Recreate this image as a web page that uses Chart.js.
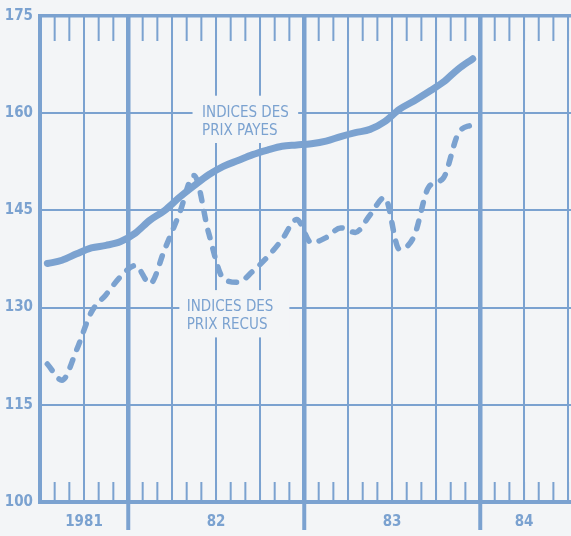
<!DOCTYPE html>
<html>
<head>
<meta charset="utf-8">
<script src="https://cdn.jsdelivr.net/npm/chart.js@4.4.0/dist/chart.umd.min.js"></script>
<style>
html, body { margin: 0; padding: 0; background: #f3f5f7; }
#wrap { width: 571px; height: 536px; }
</style>
</head>
<body>
<div id="wrap"><canvas id="indicesChart" width="571" height="536"></canvas></div>
<script>
// mois de juillet 1981 a decembre 1983
var months = ['07/81', '08/81', '09/81', '10/81', '11/81', '12/81',
              '01/82', '02/82', '03/82', '04/82', '05/82', '06/82',
              '07/82', '08/82', '09/82', '10/82', '11/82', '12/82',
              '01/83', '02/83', '03/83', '04/83', '05/83', '06/83',
              '07/83', '08/83', '09/83', '10/83', '11/83', '12/83'];

var prixPayes = [136.8, 137.3, 138.3, 139.2, 139.6, 140.2,
                 141.5, 143.5, 145.0, 147.0, 148.8, 150.5,
                 151.8, 152.7, 153.6, 154.3, 154.9, 155.1,
                 155.3, 155.7, 156.4, 157.0, 157.5, 158.7,
                 160.6, 161.9, 163.3, 164.8, 166.8, 168.4];

var prixRecus = [121.3, 118.8, 123.5, 129.3, 132.0, 134.8,
                 136.5, 133.7, 139.0, 144.5, 150.4, 141.5,
                 134.5, 133.9, 135.6, 137.8, 140.5, 143.6,
                 140.0, 140.8, 142.3, 141.6, 144.3, 147.0,
                 139.0, 141.0, 148.6, 150.0, 156.8, 158.3];

var yearTicks = [3, 12, 24, 33];
var yearLabels = ['1981', '82', '83', '84'];
var yearStarts = [6, 18, 30];
var yTicks = [100, 115, 130, 145, 160, 175];

var blue = '#7ba2d0';
var paper = '#f3f5f7';
var narrow = '"DejaVu Sans Condensed", Roboto, sans-serif';

var toPoints = function(values) {
    return values.map(function(v, i) { return { x: i + 0.5, y: v }; });
};

var quarterTicks = [];
for (var q = 0; q <= 36; q += 3) { quarterTicks.push(q); }

// etiquettes posees en coordonnees (mois, indice)
var notes = [
    { lines: ['INDICES DES', 'PRIX PAYES'], x: 11.05, y: 159.4, box: [10.4, 17.6, 162.7, 155.4] },
    { lines: ['INDICES DES', 'PRIX RECUS'], x: 10.0, y: 129.4, box: [9.5, 17.0, 132.7, 125.4] }
];

var extras = {
    id: 'extras',
    beforeDatasetsDraw: function(chart) {
        var ctx = chart.ctx;
        var xs = chart.scales.x;
        var ys = chart.scales.y;
        var area = chart.chartArea;
        ctx.save();
        ctx.beginPath();
        ctx.rect(area.left, area.top - 2, area.right - area.left, area.bottom - area.top + 4);
        ctx.clip();
        ctx.strokeStyle = blue;
        ctx.lineWidth = 2;
        for (var m = 1; m <= 36; m++) {
            var px = xs.getPixelForValue(m);
            ctx.beginPath();
            ctx.moveTo(px, area.top);
            ctx.lineTo(px, area.top + 25);
            ctx.moveTo(px, area.bottom);
            ctx.lineTo(px, area.bottom - 20);
            ctx.stroke();
        }
        notes.forEach(function(n) {
            var x1 = xs.getPixelForValue(n.box[0]);
            var x2 = xs.getPixelForValue(n.box[1]);
            var y1 = ys.getPixelForValue(n.box[2]);
            var y2 = ys.getPixelForValue(n.box[3]);
            ctx.fillStyle = paper;
            ctx.fillRect(x1, y1, x2 - x1, y2 - y1);
            ctx.fillStyle = blue;
            ctx.font = '15px ' + narrow;
            ctx.textBaseline = 'alphabetic';
            var tx = xs.getPixelForValue(n.x);
            var ty = ys.getPixelForValue(n.y);
            n.lines.forEach(function(line, i) {
                ctx.fillText(line, tx, ty + i * 18);
            });
        });
        ctx.restore();
    }
};

var ctxD = document.getElementById('indicesChart').getContext('2d');
var indicesChart = new Chart(ctxD, {
    type: 'line',
    data: {
        datasets: [
            {
                label: 'Indices des prix payes',
                data: toPoints(prixPayes),
                borderColor: blue,
                borderWidth: 7,
                borderCapStyle: 'round',
                borderJoinStyle: 'round',
                cubicInterpolationMode: 'monotone',
                pointRadius: 0,
                fill: false
            },
            {
                label: 'Indices des prix recus',
                data: toPoints(prixRecus),
                borderColor: blue,
                borderWidth: 5.5,
                borderDash: [8, 11],
                borderCapStyle: 'round',
                borderJoinStyle: 'round',
                cubicInterpolationMode: 'monotone',
                pointRadius: 0,
                fill: false
            }
        ]
    },
    options: {
        responsive: false,
        animation: false,
        layout: { padding: { top: 13, right: 0, left: 0, bottom: 0 } },
        plugins: {
            legend: { display: false },
            tooltip: { enabled: false }
        },
        scales: {
            x: {
                type: 'linear',
                min: 0,
                max: 36.2,
                afterBuildTicks: function(scale) {
                    scale.ticks = quarterTicks.map(function(v) { return { value: v }; });
                },
                afterFit: function(scale) { scale.height = 34; },
                border: { color: blue, width: 4 },
                grid: {
                    color: blue,
                    lineWidth: function(c) {
                        return c.tick && yearStarts.indexOf(c.tick.value) >= 0 ? 4.5 : 2;
                    },
                    tickColor: function(c) {
                        return c.tick && yearStarts.indexOf(c.tick.value) >= 0 ? blue : 'rgba(0,0,0,0)';
                    },
                    tickWidth: 4,
                    tickLength: 28
                },
                ticks: {
                    autoSkip: false,
                    maxRotation: 0,
                    padding: -17,
                    color: blue,
                    font: { family: narrow, weight: 'bold', size: 15 },
                    callback: function(value) {
                        var i = yearTicks.indexOf(value);
                        return i >= 0 ? yearLabels[i] : '';
                    }
                }
            },
            y: {
                min: 100,
                max: 175,
                afterBuildTicks: function(scale) {
                    scale.ticks = yTicks.map(function(v) { return { value: v }; });
                },
                afterFit: function(scale) { scale.width = 40; },
                border: { color: blue, width: 4 },
                grid: {
                    color: blue,
                    lineWidth: function(c) {
                        return c.tick && c.tick.value === 175 ? 3.5 : 2;
                    },
                    drawTicks: false
                },
                ticks: {
                    padding: 7,
                    color: blue,
                    font: { family: narrow, weight: 'bold', size: 15 }
                }
            }
        }
    },
    plugins: [extras]
});
</script>
</body>
</html>
